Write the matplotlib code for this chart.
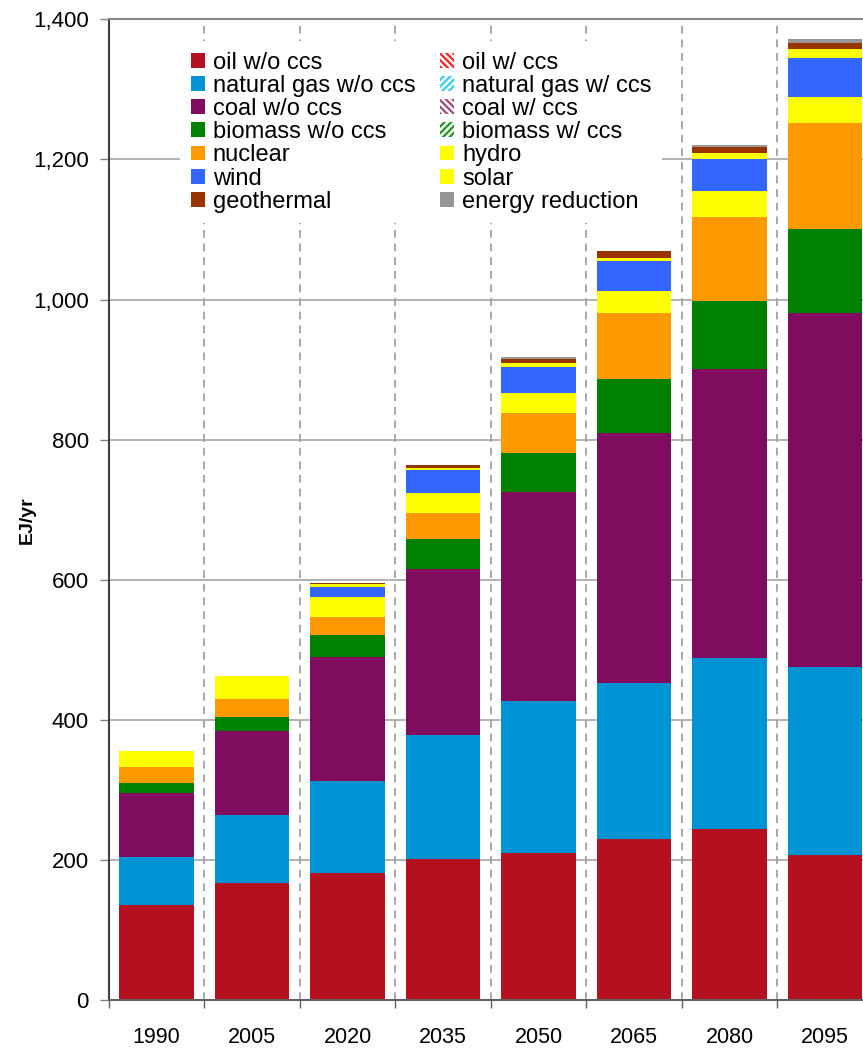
import matplotlib
matplotlib.use("Agg")
import matplotlib.pyplot as plt
from matplotlib import font_manager
import numpy as np

# data (EJ/yr)
years = ['1990', '2005', '2020', '2035', '2050', '2065', '2080', '2095']
oil_wo = [136, 167, 182, 202, 210, 230, 245, 208]
oil_w = [0, 0, 0, 0, 0, 0, 0, 0]
gas_wo = [69, 98, 131, 177, 217, 223, 243, 268]
gas_w = [0, 0, 0, 0, 0, 0, 0, 0]
coal_wo = [91, 119, 177, 237, 298, 357, 413, 505]
coal_w = [0, 0, 0, 0, 0, 0, 0, 0]
bio_wo = [14, 20, 31, 42, 56, 77, 97, 120]
bio_w = [0, 0, 0, 0, 0, 0, 0, 0]
nuclear = [23, 26, 26, 38, 57, 94, 120, 151]
hydro = [23, 33, 29, 28, 29, 31, 37, 37]
wind = [0, 0, 14, 33, 37, 43, 46, 56]
solar = [0, 0, 4, 2, 5, 5, 8, 13]
geothermal = [0, 0, 1, 5, 6, 9, 9, 8]
energy_red = [0, 0, 0, 0, 3, 1, 2, 6]

names = [f.name for f in font_manager.fontManager.ttflist]
has_narrow = 'Liberation Sans Narrow' in names
narrow = 'Liberation Sans Narrow' if has_narrow else 'Liberation Sans'
plt.rcParams['font.family'] = ['Liberation Sans', 'DejaVu Sans']
plt.rcParams['hatch.linewidth'] = 1.6

# (label, values, color, hatch)
series = [
    ('oil w/o ccs', oil_wo, '#B5101F', None),
    ('oil w/ ccs', oil_w, '#FF2020', '\\\\\\\\\\'),
    ('natural gas w/o ccs', gas_wo, '#0094D4', None),
    ('natural gas w/ ccs', gas_w, '#33CCFF', '/////'),
    ('coal w/o ccs', coal_wo, '#7F0C5E', None),
    ('coal w/ ccs', coal_w, '#A04A7A', '\\\\\\\\\\'),
    ('biomass w/o ccs', bio_wo, '#008000', None),
    ('biomass w/ ccs', bio_w, '#1E961E', '/////'),
    ('nuclear', nuclear, '#FF9900', None),
    ('hydro', hydro, '#FFFF00', None),
    ('wind', wind, '#3366FF', None),
    ('solar', solar, '#FFFF00', None),
    ('geothermal', geothermal, '#993300', None),
    ('energy reduction', energy_red, '#969696', None),
]

fig = plt.figure(figsize=(8.63, 10.49), dpi=100)
ax = fig.add_axes([108.8 / 863, 48.7 / 1049, 764 / 863, 981 / 1049])

x = np.arange(len(years)) + 0.5
bottom = np.zeros(len(years))
handles = {}
for label, vals, color, hatch in series:
    vals = np.array(vals, dtype=float)
    if hatch:
        b = ax.bar(x, vals, 0.78, bottom=bottom, facecolor='white',
                   edgecolor=color, hatch=hatch, linewidth=0, label=label)
    else:
        b = ax.bar(x, vals, 0.78, bottom=bottom, color=color,
                   linewidth=0, label=label)
    handles[label] = b
    bottom += vals

ax.set_xlim(0, 8)
ax.set_ylim(0, 1400)
ax.set_axisbelow(True)

ax.set_yticks(np.arange(0, 1401, 200))
ax.set_yticklabels([f'{v:,}' for v in range(0, 1401, 200)], fontsize=16)
ax.yaxis.grid(True, color='#A6A6A6', linewidth=1.2)

ax.set_xticks(np.arange(0, 9))
ax.set_xticklabels([])
ax.set_xticks(x, minor=True)
ax.set_xticklabels(years, minor=True, fontsize=17 if has_narrow else 15.5, family=narrow)
ax.xaxis.grid(True, which='major', color='#A8A8A8', linewidth=1.4,
              linestyle=(0, (4, 3)))

ax.tick_params(axis='y', direction='out', length=6.5, width=1, color='#808080', pad=8)
ax.tick_params(axis='x', which='major', direction='out', length=5.8, width=1, color='#606060')
ax.tick_params(axis='x', which='minor', length=0, pad=19)

ax.spines['left'].set_color('#404040')
ax.spines['left'].set_linewidth(1.5)
ax.spines['bottom'].set_color('#606060')
ax.spines['bottom'].set_linewidth(1.5)
ax.spines['top'].set_color('#868686')
ax.spines['top'].set_linewidth(1.5)
ax.spines['right'].set_visible(False)

ax.set_ylabel('EJ/yr', fontsize=15 if has_narrow else 14, fontweight='bold', family=narrow)
ax.yaxis.set_label_coords(-0.095, 0.489)

order = ['oil w/o ccs', 'natural gas w/o ccs', 'coal w/o ccs', 'biomass w/o ccs',
         'nuclear', 'wind', 'geothermal',
         'oil w/ ccs', 'natural gas w/ ccs', 'coal w/ ccs', 'biomass w/ ccs',
         'hydro', 'solar', 'energy reduction']
fs = 17 * 100 / 72
leg = ax.legend([handles[k] for k in order], order, ncol=2, loc='upper left',
                bbox_to_anchor=(180 / 863, 1 - 41 / 1049), bbox_transform=fig.transFigure,
                fontsize=17, frameon=True, fancybox=False, framealpha=1,
                facecolor='white', edgecolor='none', borderaxespad=0,
                borderpad=0.45, handlelength=14 / fs, handleheight=14 / fs,
                handletextpad=8 / fs, columnspacing=25 / fs, labelspacing=0.05)

fig.savefig('out.png', dpi=100)
